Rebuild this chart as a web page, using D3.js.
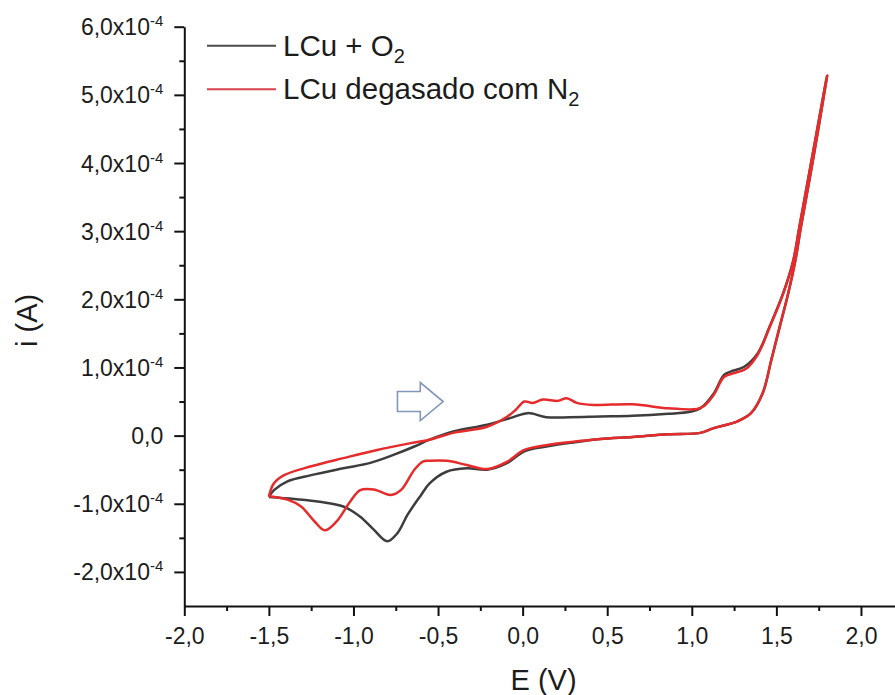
<!DOCTYPE html>
<html>
<head>
<meta charset="utf-8">
<title>LCu - voltametria ciclica</title>
<script src="https://cdn.jsdelivr.net/npm/d3@7"></script>
<style>
  body { margin: 0; background: #fff; }
  text { font-family: "Liberation Sans", Arial, sans-serif; fill: #1c1c1c; }
  .curve { fill: none; stroke-width: 2.5px; stroke-linejoin: round; }
  .axis path, .axis line { stroke: #111; stroke-width: 2px; }
</style>
</head>
<body>
<div id="chart"></div>
<script>
// current values are in units of 1e-4 A (as on the y axis)
const o2E = [-1.50, -1.47, -1.39, -1.25, -1.06, -0.90, -0.76, -0.64, -0.55, -0.41,
             -0.21, -0.07, 0.03, 0.14, 0.28, 0.46, 0.65, 0.86, 0.99, 1.05,
             1.13, 1.19, 1.23, 1.31, 1.39, 1.46, 1.54, 1.60, 1.636, 1.708, 1.80,
             1.716, 1.645, 1.612, 1.57, 1.52, 1.47, 1.42, 1.35, 1.27, 1.13,
             1.05, 0.86, 0.65, 0.46, 0.30, 0.14, 0.01, -0.09, -0.21, -0.33,
             -0.45, -0.55, -0.60, -0.68, -0.74, -0.80, -0.88, -0.96, -1.06, -1.20,
             -1.35, -1.50];
const o2I = [-0.90, -0.80, -0.67, -0.58, -0.48, -0.40, -0.28, -0.16, -0.06, 0.06,
             0.16, 0.26, 0.33, 0.27, 0.27, 0.28, 0.29, 0.32, 0.35, 0.40,
             0.62, 0.89, 0.94, 1.01, 1.21, 1.60, 2.09, 2.57, 3.06, 4.04, 5.28,
             4.04, 3.06, 2.57, 2.09, 1.60, 1.11, 0.63, 0.33, 0.21, 0.11,
             0.04, 0.02, -0.02, -0.05, -0.10, -0.16, -0.23, -0.40, -0.50, -0.48,
             -0.53, -0.70, -0.87, -1.16, -1.43, -1.55, -1.38, -1.19, -1.04, -0.97,
             -0.93, -0.90];

const n2E = [-1.50, -1.47, -1.41, -1.25, -1.06, -0.86, -0.66, -0.55, -0.41, -0.21,
             -0.09, -0.04, 0.01, 0.06, 0.12, 0.21, 0.26, 0.32, 0.42, 0.65,
             0.86, 1.03, 1.07, 1.13, 1.19, 1.24, 1.32, 1.39, 1.46, 1.54,
             1.60, 1.636, 1.708, 1.80,
             1.716, 1.645, 1.612, 1.57, 1.52, 1.47, 1.42, 1.35, 1.27, 1.13,
             1.05, 0.86, 0.65, 0.46, 0.30, 0.14, 0.01, -0.09, -0.21, -0.33,
             -0.45, -0.55, -0.59, -0.64, -0.72, -0.78, -0.88, -0.96, -1.02, -1.10,
             -1.17, -1.23, -1.31, -1.39, -1.50];
const n2I = [-0.89, -0.70, -0.58, -0.45, -0.33, -0.21, -0.11, -0.06, 0.04, 0.13,
             0.28, 0.38, 0.50, 0.48, 0.53, 0.51, 0.55, 0.48, 0.45, 0.46,
             0.40, 0.39, 0.43, 0.60, 0.86, 0.91, 0.98, 1.19, 1.59, 2.08,
             2.57, 3.06, 4.04, 5.28,
             4.04, 3.06, 2.57, 2.09, 1.60, 1.11, 0.63, 0.33, 0.21, 0.11,
             0.04, 0.02, -0.02, -0.05, -0.09, -0.14, -0.21, -0.38, -0.49, -0.43,
             -0.37, -0.37, -0.38, -0.50, -0.80, -0.87, -0.79, -0.80, -0.97, -1.26,
             -1.39, -1.26, -1.04, -0.94, -0.89];

const xTicks = [-2.0, -1.5, -1.0, -0.5, 0.0, 0.5, 1.0, 1.5, 2.0];
const xMinor = [-1.75, -1.25, -0.75, -0.25, 0.25, 0.75, 1.25, 1.75];
const yTicks = [-2, -1, 0, 1, 2, 3, 4, 5, 6];
const yMinor = [-1.5, -0.5, 0.5, 1.5, 2.5, 3.5, 4.5, 5.5];

const seriesNames = ["LCu + O", "LCu degasado com N"];
const seriesSubs = ["2", "2"];
const seriesColors = ["#3d3d3d", "#e52b2b"];
const legendColors = ["#4a4a4a", "#d8424c"];

const width = 895, height = 695;
const margin = {top: 26.7, right: 0.2, bottom: 89, left: 184.3};

const svg = d3.select("#chart").append("svg")
    .attr("width", width)
    .attr("height", height);

const x = d3.scaleLinear().domain([-2, 2.2]).range([margin.left, width - margin.right]);
const y = d3.scaleLinear().domain([-2.5, 6]).range([height - margin.bottom, margin.top]);

const fmt = v => (v < 0 ? "-" : "") + Math.abs(v).toFixed(1).replace(".", ",");

// minor ticks
svg.append("g").attr("class", "axis")
    .attr("transform", `translate(0,${y(-2.5)})`)
    .call(d3.axisBottom(x).tickValues(xMinor).tickSize(5).tickFormat(""))
    .call(g => g.select(".domain").remove());
svg.append("g").attr("class", "axis")
    .attr("transform", `translate(${x(-2)},0)`)
    .call(d3.axisLeft(y).tickValues(yMinor).tickSize(5).tickFormat(""))
    .call(g => g.select(".domain").remove());

// x axis
svg.append("g").attr("class", "axis")
    .attr("transform", `translate(0,${y(-2.5)})`)
    .call(d3.axisBottom(x).tickValues(xTicks).tickSize(10).tickSizeOuter(0)
        .tickPadding(12).tickFormat(fmt))
    .call(g => g.selectAll(".tick text").attr("font-size", 23));

// y axis
const yAxis = svg.append("g").attr("class", "axis")
    .attr("transform", `translate(${x(-2)},0)`)
    .call(d3.axisLeft(y).tickValues(yTicks).tickSize(10).tickSizeOuter(0)
        .tickPadding(11).tickFormat(""));
yAxis.selectAll(".tick text")
    .attr("font-size", 23)
    .attr("dy", "0.35em")
    .each(function(d) {
      const t = d3.select(this);
      if (d === 0) { t.text("0,0"); return; }
      t.append("tspan").text(fmt(d) + "x10");
      t.append("tspan").attr("font-size", 15).attr("dy", -9).text("-4");
    });
svg.selectAll(".axis text").style("font-family", "'Liberation Sans', Arial, sans-serif");

// axis titles
svg.append("text")
    .attr("transform", `translate(27,${(y(6) + y(-2.5)) / 2 + 4}) rotate(-90)`)
    .attr("text-anchor", "middle")
    .attr("dy", "0.35em")
    .attr("font-size", 29)
    .text("i (A)");
svg.append("text")
    .attr("x", (x(-2) + x(2.2)) / 2 + 4)
    .attr("y", 690)
    .attr("text-anchor", "middle")
    .attr("font-size", 29)
    .text("E (V)");

// curves
const line = d3.line()
    .x(d => x(d[0]))
    .y(d => y(d[1]))
    .curve(d3.curveCatmullRom.alpha(0.5));

const series = [d3.zip(o2E, o2I), d3.zip(n2E, n2I)];
svg.selectAll(".curve")
    .data(series)
    .enter().append("path")
    .attr("class", "curve")
    .attr("stroke", (d, i) => seriesColors[i])
    .attr("d", line);

// scan direction arrow
const arrowFrom = -0.74, arrowNeck = -0.605, arrowTo = -0.47, arrowLevel = 0.50;
const ay = y(arrowLevel);
svg.append("path")
    .attr("d", d3.line()([
      [x(arrowFrom), ay - 10], [x(arrowNeck), ay - 10], [x(arrowNeck), ay - 19],
      [x(arrowTo), ay], [x(arrowNeck), ay + 19], [x(arrowNeck), ay + 10],
      [x(arrowFrom), ay + 10]
    ]) + "Z")
    .attr("fill", "#fff")
    .attr("stroke", "#8397b9")
    .attr("stroke-width", 1.6);

// legend
const legend = svg.append("g");
seriesNames.forEach((name, i) => {
  const ly = 45.7 + i * 43.5;
  legend.append("line")
      .attr("x1", 207).attr("x2", 276)
      .attr("y1", ly).attr("y2", ly)
      .attr("stroke", legendColors[i])
      .attr("stroke-width", 2);
  const t = legend.append("text")
      .attr("x", 283).attr("y", ly + 10)
      .attr("font-size", 29.5);
  t.append("tspan").text(name);
  t.append("tspan").attr("font-size", 20).attr("dy", 7).text(seriesSubs[i]);
});
</script>
</body>
</html>
